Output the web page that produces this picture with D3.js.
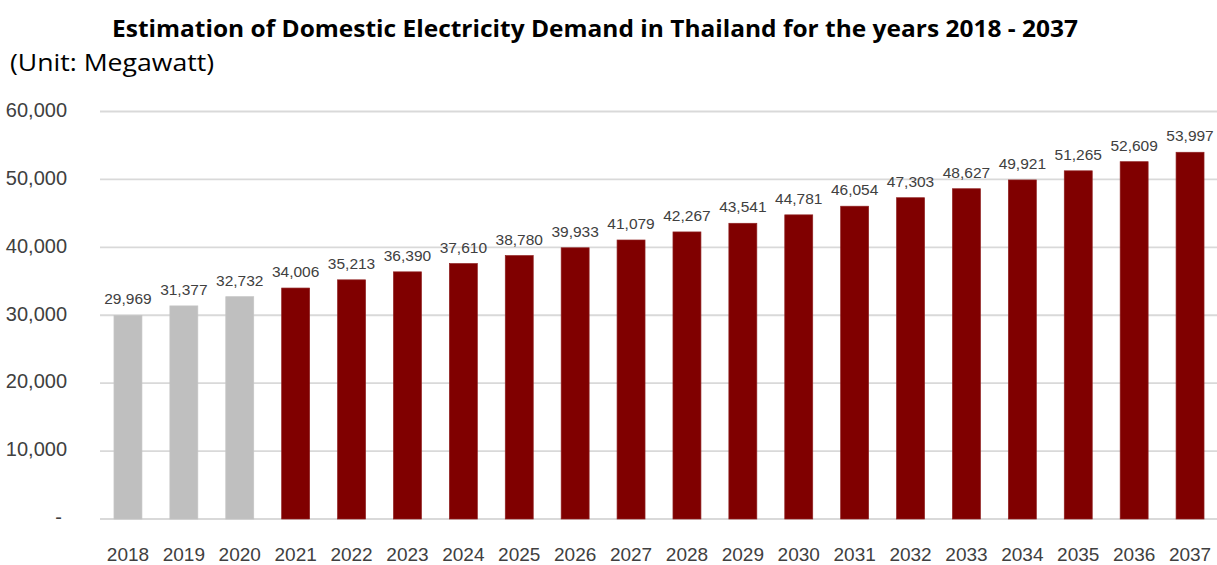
<!DOCTYPE html>
<html>
<head>
<meta charset="utf-8">
<script src="https://cdn.jsdelivr.net/npm/d3@7"></script>
<style>
  html, body { margin: 0; padding: 0; background: #fff; }
  svg { display: block; }
</style>
</head>
<body>
<svg id="chart" width="1217" height="565"></svg>
<script>
const years = ["2018","2019","2020","2021","2022","2023","2024","2025","2026","2027","2028","2029","2030","2031","2032","2033","2034","2035","2036","2037"];
const demand = [29969,31377,32732,34006,35213,36390,37610,38780,39933,41079,42267,43541,44781,46054,47303,48627,49921,51265,52609,53997];
const actualYears = ["2018","2019","2020"];
const yTicks = [0,10000,20000,30000,40000,50000,60000];
const titleText = "Estimation of Domestic Electricity Demand in Thailand for the years 2018 - 2037";
const unitText = "(Unit: Megawatt)";

const svg = d3.select("#chart");
const W = 1217, H = 565;

const x = d3.scaleBand().domain(years).range([100, 1218]).paddingInner(0.5).paddingOuter(0.25);
const y = d3.scaleLinear().domain([0, 60000]).range([519, 111.5]);

// gridlines
svg.append("g").selectAll("line").data(yTicks).join("line")
  .attr("x1", 100).attr("x2", W)
  .attr("y1", d => y(d)).attr("y2", d => y(d))
  .attr("stroke", "#d9d9d9").attr("stroke-width", 1.8);

// y axis labels
const fmt = d3.format(",");
const yAxis = d3.axisLeft(y).tickValues(yTicks).tickSize(0).tickPadding(0)
  .tickFormat(d => d === 0 ? "-" : fmt(d));
const gy = svg.append("g").attr("transform", "translate(67,0)").call(yAxis);
gy.select(".domain").remove();
gy.selectAll("text")
  .attr("font-family", "Liberation Sans, Arial, sans-serif")
  .attr("font-size", 20).attr("fill", "#404040").attr("dy", "0.24em");
gy.selectAll("text").filter(d => d === 0).attr("dx", -5);

// bars
svg.append("g").selectAll("rect").data(years).join("rect")
  .attr("x", d => x(d))
  .attr("width", x.bandwidth())
  .attr("y", (d, i) => y(demand[i]))
  .attr("height", (d, i) => y(0) - y(demand[i]))
  .attr("fill", d => actualYears.includes(d) ? "#bfbfbf" : "#800000")
  .attr("stroke", d => actualYears.includes(d) ? "#c4c4c4" : "#8f2020")
  .attr("stroke-width", 0.7);

// data labels
svg.append("g").selectAll("text").data(years).join("text")
  .attr("x", d => x(d) + x.bandwidth() / 2)
  .attr("y", (d, i) => y(demand[i]) - 11)
  .attr("text-anchor", "middle")
  .attr("font-family", "Liberation Sans, Arial, sans-serif")
  .attr("font-size", 15.5).attr("fill", "#404040")
  .text((d, i) => fmt(demand[i]));

// x axis labels
const xAxis = d3.axisBottom(x).tickSize(0).tickPadding(0);
const gx = svg.append("g").attr("transform", "translate(0,561)").call(xAxis);
gx.select(".domain").remove();
gx.selectAll("text")
  .attr("font-family", "Liberation Sans, Arial, sans-serif")
  .attr("font-size", 19).attr("fill", "#404040").attr("dy", 0).attr("y", 0);

// title
svg.append("text")
  .attr("x", 112).attr("y", 37)
  .attr("font-family", "Open Sans, sans-serif").attr("font-weight", "bold")
  .attr("font-size", 23).attr("fill", "#000")
  .attr("textLength", 966).attr("lengthAdjust", "spacingAndGlyphs")
  .text(titleText);

svg.append("text")
  .attr("x", 10).attr("y", 71)
  .attr("font-family", "Open Sans, sans-serif")
  .attr("font-size", 23).attr("fill", "#000")
  .attr("textLength", 204).attr("lengthAdjust", "spacingAndGlyphs")
  .text(unitText);
</script>
</body>
</html>
